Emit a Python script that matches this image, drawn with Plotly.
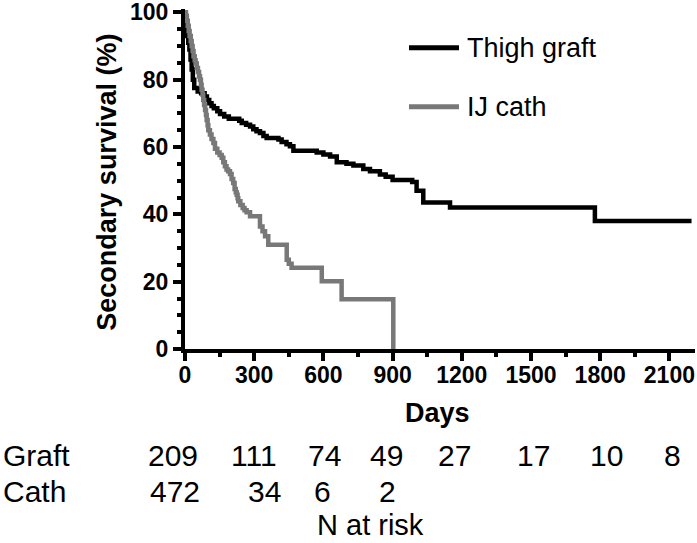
import plotly.graph_objects as go

# ---------------- data ----------------
graft_days = [0, 2, 5, 9, 14, 19, 24, 29, 34, 40, 55, 70, 85, 95, 105, 115, 125, 140, 152, 170,
              190, 235, 246, 265, 282, 296, 310, 325, 340, 354, 405, 419, 440, 455, 470, 571, 600, 629, 658, 700,
              730, 773, 802, 845, 870, 900, 985, 1004, 1033, 1149, 1777, 2196]
graft_surv = [100, 97, 95, 93, 91, 89, 86, 83, 80, 77.5, 76.5, 76, 75, 74, 73, 72.2, 71.5, 70.6, 69.8, 69.1,
              68.4, 67.8, 67.1, 66.6, 66.1, 65.3, 64.7, 64.2, 63.3, 62.7, 62.2, 61.5, 60.8, 60.2, 58.9, 58.4, 57.8, 57.2, 55.5, 55,
              54.5, 53.5, 52.8, 51.8, 51.2, 50.2, 49.6, 47, 43.5, 42, 38, 38]

cath_days = [0, 4, 8, 12, 16, 20, 25, 29, 33, 37, 42, 46, 51, 56, 61, 65, 69, 72, 76, 79,
             83, 87, 91, 94, 98, 101, 108, 115, 123, 130, 140, 150, 159, 166, 173, 180, 187, 195, 202, 209,
             215, 220, 224, 228, 231, 240, 250, 258, 267, 282, 325, 336, 347, 361, 441, 450, 462, 593, 679, 903]
cath_surv = [100, 99, 97.5, 96, 94.5, 93, 91.5, 90, 88.5, 87, 85.8, 84.8, 83.5, 82.3, 81, 80, 78.5, 77, 75.5, 74,
             72.5, 71, 69.5, 68, 66.5, 65, 63.7, 62.4, 61.2, 59.5, 58.4, 57.6, 56.8, 55.5, 54.3, 53.3, 52.8, 52, 50.5, 49.3,
             47.5, 46.6, 45.8, 44.8, 43.9, 42.8, 41.9, 41.2, 40.6, 39.4, 36.4, 35, 33.5, 31, 26.5, 25.3, 24.1, 20.1, 14.8, 0]

series_names = ["Thigh graft", "IJ cath"]
x_ticks = [0, 300, 600, 900, 1200, 1500, 1800, 2100]
y_ticks = [0, 20, 40, 60, 80, 100]

risk_row_labels = ["Graft", "Cath"]
graft_at_risk = ["209", "111", "74", "49", "27", "17", "10", "8"]
cath_at_risk = ["472", "34", "6", "2"]

# ---------------- layout geometry (pixels) ----------------
W_FIG, H_FIG = 697, 543
L, T = 185, 9.3
B_PX = 349.3
PW = 510.0
PH = B_PX - T

def px_x(px):
    return (px - L) / PW

def px_y(py):
    return (B_PX - py) / PH

BLACK = "#000000"
GRAY = "#787878"
FONT = "Liberation Sans"

fig = go.Figure()
fig.add_trace(go.Scatter(x=graft_days, y=graft_surv, mode="lines", line_shape="hv",
                         line=dict(color=BLACK, width=4.5), name=series_names[0], showlegend=False))
fig.add_trace(go.Scatter(x=cath_days, y=cath_surv, mode="lines", line_shape="hv",
                         line=dict(color=GRAY, width=4.5), name=series_names[1], showlegend=False))

fig.update_layout(
    width=W_FIG, height=H_FIG,
    margin=dict(l=L, r=W_FIG - L - PW, t=T, b=H_FIG - B_PX, autoexpand=False),
    plot_bgcolor="white", paper_bgcolor="white",
)
fig.update_xaxes(range=[0, 2211], showgrid=False, zeroline=False, showline=True, linecolor=BLACK, linewidth=4,
                 automargin=False, ticklabeloverflow="allow", ticklabelstandoff=-6,
                 ticks="outside", ticklen=8, tickwidth=4, tickcolor=BLACK,
                 tickvals=x_ticks, ticktext=[str(v) for v in x_ticks],
                 tickfont=dict(family=FONT, size=23, color=BLACK, weight="bold"),
                 minor=dict(dtick=150, tick0=0, ticks="outside", ticklen=4, tickwidth=4, tickcolor=BLACK, showgrid=False))
fig.update_yaxes(range=[0, 101], showgrid=False, zeroline=False, showline=True, linecolor=BLACK, linewidth=4,
                 automargin=False, ticklabeloverflow="allow",
                 ticks="outside", ticklen=8, tickwidth=4, tickcolor=BLACK,
                 tickvals=y_ticks, ticktext=[str(v) for v in y_ticks],
                 tickfont=dict(family=FONT, size=23, color=BLACK, weight="bold"),
                 minor=dict(dtick=5, tick0=0, ticks="outside", ticklen=4, tickwidth=4, tickcolor=BLACK, showgrid=False))

ann = []
# axis titles
ann.append(dict(text="<b>Secondary survival (%)</b>", x=px_x(107), y=px_y(183), xref="paper", yref="paper",
                textangle=-90, showarrow=False, xanchor="center", yanchor="middle",
                font=dict(family=FONT, size=27, color=BLACK)))
ann.append(dict(text="<b>Days</b>", x=px_x(437), y=px_y(413), xref="paper", yref="paper",
                showarrow=False, xanchor="center", yanchor="middle",
                font=dict(family=FONT, size=27, color=BLACK)))

# legend (manual)
legend_y = [48, 107]
legend_col = [BLACK, GRAY]
shapes = []
for name, ly, col in zip(series_names, legend_y, legend_col):
    shapes.append(dict(type="line", xref="paper", yref="paper", x0=px_x(409), x1=px_x(459),
                       y0=px_y(ly), y1=px_y(ly), line=dict(color=col, width=5)))
    ann.append(dict(text=name, x=px_x(465), y=px_y(ly), xref="paper", yref="paper", showarrow=False,
                    xanchor="left", yanchor="middle", font=dict(family=FONT, size=27, color=BLACK)))

# at-risk table
row_y = [456, 492]
graft_x = [172.5, 254, 324.5, 386.5, 454, 533, 606, 672]
cath_x = [175, 264.5, 322, 387.5]
for lbl, ry in zip(risk_row_labels, row_y):
    ann.append(dict(text=lbl, x=px_x(1), y=px_y(ry), xref="paper", yref="paper", showarrow=False,
                    xanchor="left", yanchor="middle", font=dict(family=FONT, size=30, color=BLACK)))
for txt, xx in zip(graft_at_risk, graft_x):
    ann.append(dict(text=txt, x=px_x(xx), y=px_y(row_y[0]), xref="paper", yref="paper", showarrow=False,
                    xanchor="center", yanchor="middle", font=dict(family=FONT, size=30, color=BLACK)))
for txt, xx in zip(cath_at_risk, cath_x):
    ann.append(dict(text=txt, x=px_x(xx), y=px_y(row_y[1]), xref="paper", yref="paper", showarrow=False,
                    xanchor="center", yanchor="middle", font=dict(family=FONT, size=30, color=BLACK)))
ann.append(dict(text="N at risk", x=px_x(370), y=px_y(525), xref="paper", yref="paper", showarrow=False,
                xanchor="center", yanchor="middle", font=dict(family=FONT, size=29, color=BLACK)))

fig.update_layout(annotations=ann, shapes=shapes)
fig.write_html("out.html", config={"displayModeBar": False},
               post_script="document.body.style.margin='0px';document.body.style.overflow='hidden';")
